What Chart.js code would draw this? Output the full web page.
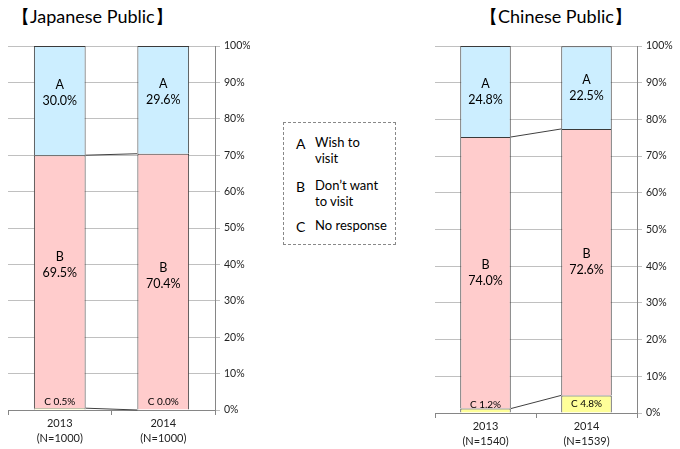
<!DOCTYPE html>
<html>
<head>
<meta charset="utf-8">
<script src="https://cdn.jsdelivr.net/npm/chart.js@4.4.1/dist/chart.umd.min.js"></script>
<style>
  body { margin: 0; background: #fff; font-family: Lato, 'Open Sans', sans-serif; }
  #wrap { position: relative; width: 680px; height: 449px; overflow: hidden; }
  .title { position: absolute; top: 5px; font-size: 18px; color: #000; white-space: nowrap; }
  #legend { position: absolute; left: 283px; top: 122px; width: 113px; height: 123px;
            border: 1px dashed #888; box-sizing: border-box; font-size: 13px; color: #000; }
  #legend .k { position: absolute; left: 12px; }
  #legend .t { position: absolute; left: 31px; line-height: 16px; }
</style>
</head>
<body>
<div id="wrap">
  <div class="title" style="left:12px">【Japanese Public】</div>
  <div class="title" style="left:480px">【Chinese Public】</div>
  <div style="position:absolute;left:0;top:0;width:250px;height:449px"><canvas id="jp"></canvas></div>
  <div style="position:absolute;left:420px;top:0;width:260px;height:449px"><canvas id="cn"></canvas></div>
  <div id="legend">
    <div class="k" style="top:12px;font-size:14px">A</div><div class="t" style="top:11px">Wish to<br>visit</div>
    <div class="k" style="top:55px;font-size:14px">B</div><div class="t" style="top:54px">Don’t want<br>to visit</div>
    <div class="k" style="top:95px;font-size:14px">C</div><div class="t" style="top:94px">No response</div>
  </div>
</div>
<script>
// categories
var jpYears = [['2013', '(N=1000)'], ['2014', '(N=1000)']];
var cnYears = [['2013', '(N=1540)'], ['2014', '(N=1539)']];

// series values (%)
var jpWish = [30.0, 29.6];
var jpDont = [69.5, 70.4];
var jpNone = [0.5, 0.0];

var cnWish = [24.8, 22.5];
var cnDont = [74.0, 72.6];
var cnNone = [1.2, 4.8];

var seriesKeys = ['C', 'B', 'A'];
var yTicks = [0, 10, 20, 30, 40, 50, 60, 70, 80, 90, 100];

// in-bar labels and connecting series lines
var barLabels = {
  id: 'barLabels',
  afterDatasetsDraw: function (chart, args, opts) {
    var ctx = chart.ctx;
    ctx.save();
    // series lines between bars
    ctx.strokeStyle = '#404040';
    ctx.lineWidth = 1;
    chart.data.datasets.forEach(function (ds, di) {
      if (di === chart.data.datasets.length - 1) return;
      var meta = chart.getDatasetMeta(di);
      for (var i = 0; i < meta.data.length - 1; i++) {
        var a = meta.data[i], b = meta.data[i + 1];
        ctx.beginPath();
        ctx.moveTo(a.x + a.width / 2, a.y);
        ctx.lineTo(b.x - b.width / 2, b.y);
        ctx.stroke();
      }
    });
    ctx.fillStyle = '#000';
    ctx.textAlign = 'center';
    ctx.textBaseline = 'middle';
    chart.data.datasets.forEach(function (ds, di) {
      var meta = chart.getDatasetMeta(di);
      meta.data.forEach(function (el, i) {
        var v = ds.data[i];
        var txt = v.toFixed(1) + '%';
        var key = seriesKeys[di];
        var nudge = (opts.nudge && opts.nudge[di]) ? opts.nudge[di][i] : 0;
        if (key === 'C') {
          ctx.font = '10px Lato, sans-serif';
          var cy = Math.min((el.y + el.base) / 2, el.base - 8);
          ctx.fillText(key + ' ' + txt, el.x, cy);
        } else {
          ctx.font = '12.5px Lato, sans-serif';
          var my = (el.y + el.base) / 2 + nudge;
          ctx.fillText(key, el.x, my - 8);
          ctx.fillText(txt, el.x, my + 8);
        }
      });
    });
    ctx.restore();
  }
};

function makeChart(id, years, c, b, a, axisW, padLeft, xH, nudge) {
  var ctx = document.getElementById(id).getContext('2d');
  return new Chart(ctx, {
    type: 'bar',
    data: {
      labels: years,
      datasets: [
        { label: 'C', data: c, backgroundColor: '#ffff99' },
        { label: 'B', data: b, backgroundColor: '#ffcccc' },
        { label: 'A', data: a, backgroundColor: '#cceeff' }
      ].map(function (d) {
        d.borderColor = '#3a3a3a';
        d.borderWidth = 1;
        d.borderSkipped = 'start';
        d.barPercentage = 0.5;
        d.categoryPercentage = 1.0;
        return d;
      })
    },
    options: {
      responsive: true,
      maintainAspectRatio: false,
      animation: false,
      layout: { padding: { top: 46, left: padLeft, right: 0, bottom: 0 } },
      plugins: {
        legend: { display: false },
        tooltip: { enabled: false },
        barLabels: { nudge: nudge }
      },
      scales: {
        x: {
          stacked: true,
          afterFit: function (s) { s.height = xH; },
          grid: { offset: true, drawOnChartArea: false, drawTicks: true, tickLength: 5, color: '#868686' },
          border: { display: true, color: '#868686' },
          ticks: { color: '#222', font: { size: 11, family: 'Lato', lineHeight: 1.35 }, padding: 1, maxRotation: 0 }
        },
        y: {
          stacked: true,
          position: 'right',
          min: 0,
          max: 100,
          afterFit: function (s) { s.width = axisW; },
          afterBuildTicks: function (s) { s.ticks = yTicks.map(function (v) { return { value: v }; }); },
          grid: { color: '#c0c0c0', tickLength: 5, drawTicks: true },
          border: { display: true, color: '#868686' },
          ticks: {
            color: '#222',
            padding: 4,
            font: { size: 10.5, family: 'Lato' },
            callback: function (v) { return v + '%'; }
          }
        }
      }
    },
    plugins: [barLabels]
  });
}

makeChart('jp', jpYears, jpNone, jpDont, jpWish, 35, 8, 39,
  [[0, 0], [-17, -6], [-8, -8]]);
makeChart('cn', cnYears, cnNone, cnDont, cnWish, 43, 15, 36, null);
</script>
</body>
</html>
